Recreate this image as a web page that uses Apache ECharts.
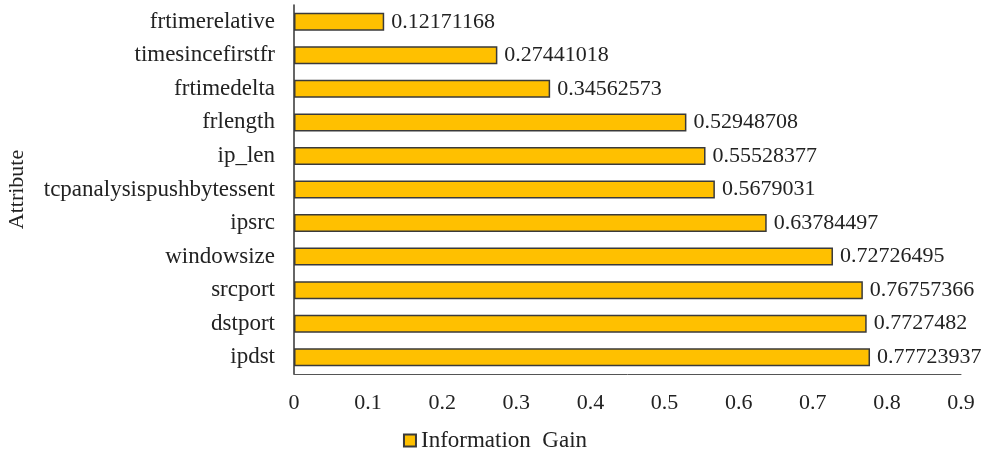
<!DOCTYPE html>
<html><head><meta charset="utf-8">
<script src="https://cdn.jsdelivr.net/npm/echarts@6/dist/echarts.min.js"></script>
<style>html,body{margin:0;padding:0;background:#fff}#c{width:990px;height:461px}</style>
</head><body><div id="c"></div>
<script>
const categories = ["ipdst","dstport","srcport","windowsize","ipsrc","tcpanalysispushbytessent","ip_len","frlength","frtimedelta","timesincefirstfr","frtimerelative"];
const values = [0.77723937,0.7727482,0.76757366,0.72726495,0.63784497,0.5679031,0.55528377,0.52948708,0.34562573,0.27441018,0.12171168];
const labels = ["0.77723937","0.7727482","0.76757366","0.72726495","0.63784497","0.5679031","0.55528377","0.52948708","0.34562573","0.27441018","0.12171168"];
const xTicks = [0,0.1,0.2,0.3,0.4,0.5,0.6,0.7,0.8,0.9];
const seriesName = "Information  Gain";
const font = "'Liberation Serif','Times New Roman',serif";
const chart = echarts.init(document.getElementById('c'));
chart.setOption({
  animation:false,
  textStyle:{fontFamily:font},
  grid:{left:294,right:29,top:5,bottom:87,containLabel:false,outerBoundsMode:'none'},
  legend:{bottom:4,left:'center',icon:'rect',itemWidth:12,itemHeight:12,itemGap:4,
    textStyle:{fontFamily:font,fontSize:23,color:'#222'},data:[seriesName]},
  xAxis:{type:'value',min:0,max:0.9,interval:0.1,
    axisLine:{show:true,lineStyle:{color:'#555',width:1}},
    axisTick:{show:false},splitLine:{show:false},
    axisLabel:{margin:18,fontFamily:font,fontSize:22,color:'#222',
      formatter:v=>{const i=Math.round(v*10);return String(xTicks[i]);}}},
  yAxis:{type:'category',data:categories,name:'Attribute',nameLocation:'middle',nameGap:266,
    nameTextStyle:{fontFamily:font,fontSize:22,color:'#222'},
    axisLine:{show:true,lineStyle:{color:'#333',width:1.5}},
    axisTick:{show:false},
    axisLabel:{margin:19,fontFamily:font,fontSize:23,color:'#222'}},
  series:[{name:seriesName,type:'bar',data:values,barWidth:18,
    itemStyle:{color:'#FFC000',borderColor:'#3a3a3a',borderWidth:1.5},
    label:{show:true,position:'right',distance:7,fontFamily:font,fontSize:22,color:'#222',
      formatter:p=>labels[p.dataIndex]}}]
});
</script></body></html>
